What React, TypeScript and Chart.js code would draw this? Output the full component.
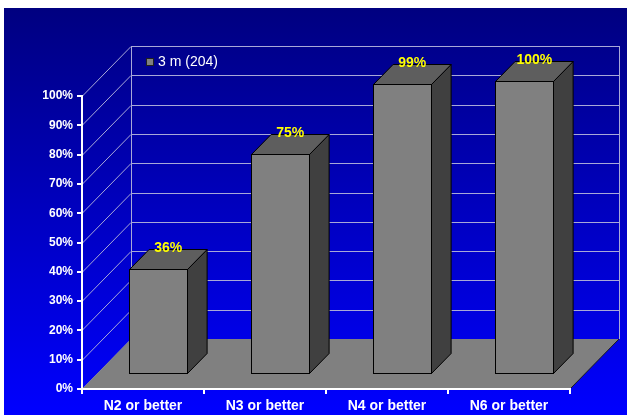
import React, { useEffect, useRef } from 'react';
import { Chart, registerables } from 'chart.js';

Chart.register(...registerables);

// ---- data ----
const CATEGORIES = ['N2 or better', 'N3 or better', 'N4 or better', 'N6 or better'];
const SERIES_LABEL = '3 m (204)';
const VALUES = [36, 75, 99, 100];
const Y_MIN = 0;
const Y_MAX = 100;
const Y_STEP = 10;

// ---- style ----
const FONT = '"Liberation Sans", Arial, Helvetica, sans-serif';
const DX = 49; // 3D depth offset (x)
const DY = -50; // 3D depth offset (y)
const GRID = '#a8a8d8';
const FRONT = '#808080';
const TOP = '#5e5e5e';
const SIDE = '#404040';
const FLOOR = '#808080';

const threeD = {
  id: 'threeD',
  beforeDraw(chart: any) {
    const { ctx, width, height, chartArea: a, scales } = chart;
    const y = scales.y;
    ctx.save();
    const g = ctx.createLinearGradient(0, 0, 0, height);
    g.addColorStop(0, '#000080');
    g.addColorStop(1, '#0000ff');
    ctx.fillStyle = g;
    ctx.fillRect(0, 0, width, height);

    // walls grid
    ctx.strokeStyle = GRID;
    ctx.lineWidth = 1;
    ctx.beginPath();
    y.ticks.forEach((t: any) => {
      const py = Math.round(y.getPixelForValue(t.value)) + 0.5;
      ctx.moveTo(a.left, py);
      ctx.lineTo(a.left + DX, py + DY);
      ctx.lineTo(a.right + DX, py + DY);
    });
    const bx1 = Math.round(a.left + DX) + 0.5;
    const bx2 = Math.round(a.right + DX) + 0.5;
    ctx.moveTo(bx1, a.top + DY);
    ctx.lineTo(bx1, a.bottom + DY);
    ctx.moveTo(bx2, a.top + DY);
    ctx.lineTo(bx2, a.bottom + DY);
    ctx.stroke();

    // floor
    ctx.fillStyle = FLOOR;
    ctx.beginPath();
    ctx.moveTo(a.left, a.bottom);
    ctx.lineTo(a.right, a.bottom);
    ctx.lineTo(a.right + DX, a.bottom + DY);
    ctx.lineTo(a.left + DX, a.bottom + DY);
    ctx.closePath();
    ctx.fill();
    ctx.strokeStyle = '#1a1a1a';
    ctx.beginPath();
    ctx.moveTo(a.right, a.bottom);
    ctx.lineTo(a.right + DX, a.bottom + DY);
    ctx.stroke();

    // legend
    const lx = Math.round(a.left + DX + 15);
    const ly = Math.round(a.top + DY + 12);
    ctx.fillStyle = FRONT;
    ctx.fillRect(lx, ly, 8, 8);
    ctx.strokeStyle = '#202020';
    ctx.strokeRect(lx + 0.5, ly + 0.5, 7, 7);
    ctx.fillStyle = '#ffffff';
    ctx.font = `14px ${FONT}`;
    ctx.textAlign = 'left';
    ctx.textBaseline = 'middle';
    ctx.fillText(chart.data.datasets[0].label, lx + 12, ly + 4);
    ctx.restore();
  },
  beforeDatasetDraw() {
    return false;
  },
  afterDatasetsDraw(chart: any) {
    const { ctx } = chart;
    const meta = chart.getDatasetMeta(0);
    const data = chart.data.datasets[0].data;
    const fx = DX * 0.3;
    const fy = DY * 0.3;
    const bdx = DX * 0.4;
    const bdy = DY * 0.4;
    ctx.save();
    ctx.lineWidth = 1;
    ctx.strokeStyle = '#000000';
    ctx.lineJoin = 'miter';
    meta.data.forEach((bar: any, i: number) => {
      const w = bar.width;
      const x0 = Math.round(bar.x - w / 2 + fx) + 0.5;
      const x1 = Math.round(bar.x + w / 2 + fx) + 0.5;
      const yt = Math.round(bar.y + fy) + 0.5;
      const yb = Math.round(bar.base + fy) + 0.5;
      // side
      ctx.fillStyle = SIDE;
      ctx.beginPath();
      ctx.moveTo(x1, yt);
      ctx.lineTo(x1 + bdx, yt + bdy);
      ctx.lineTo(x1 + bdx, yb + bdy);
      ctx.lineTo(x1, yb);
      ctx.closePath();
      ctx.fill();
      ctx.stroke();
      // top
      ctx.fillStyle = TOP;
      ctx.beginPath();
      ctx.moveTo(x0, yt);
      ctx.lineTo(x0 + bdx, yt + bdy);
      ctx.lineTo(x1 + bdx, yt + bdy);
      ctx.lineTo(x1, yt);
      ctx.closePath();
      ctx.fill();
      ctx.stroke();
      // front
      ctx.fillStyle = FRONT;
      ctx.fillRect(x0, yt, x1 - x0, yb - yt);
      ctx.strokeRect(x0, yt, x1 - x0, yb - yt);
      // label
      ctx.fillStyle = '#ffff00';
      ctx.font = `bold 14px ${FONT}`;
      ctx.textAlign = 'center';
      ctx.textBaseline = 'middle';
      ctx.fillText(`${data[i]}%`, (x0 + x1) / 2 + bdx / 2, yt + bdy - 1);
    });
    ctx.restore();
  },
};

export default function App() {
  const ref = useRef<HTMLCanvasElement>(null);
  useEffect(() => {
    if (!ref.current) return;
    const axisGrid = {
      offset: true,
      drawOnChartArea: false,
      drawTicks: true,
      tickLength: 5,
      color: '#ffffff',
      lineWidth: 2,
    };
    const chart = new Chart(ref.current, {
      type: 'bar',
      data: {
        labels: CATEGORIES,
        datasets: [
          {
            label: SERIES_LABEL,
            data: VALUES,
            backgroundColor: FRONT,
            categoryPercentage: 1,
            barPercentage: 0.475,
          },
        ],
      },
      options: {
        responsive: false,
        animation: false,
        events: [],
        layout: { padding: { left: 0, top: 88, right: 57, bottom: 0 } },
        plugins: { legend: { display: false }, tooltip: { enabled: false } },
        scales: {
          x: {
            offset: true,
            grid: axisGrid,
            border: { display: true, color: '#ffffff', width: 2 },
            ticks: {
              color: '#ffffff',
              font: { family: FONT, size: 14, weight: 'bold' },
              padding: 4,
              maxRotation: 0,
              autoSkip: false,
            },
            afterFit: (s: any) => {
              s.height = 26;
            },
          },
          y: {
            min: Y_MIN,
            max: Y_MAX,
            grid: { ...axisGrid, offset: false },
            border: { display: true, color: '#ffffff', width: 2 },
            ticks: {
              stepSize: Y_STEP,
              color: '#ffffff',
              font: { family: FONT, size: 12, weight: 'bold' },
              padding: 4,
              callback: (v: any) => `${v}%`,
            },
            afterFit: (s: any) => {
              s.width = 78;
            },
          },
        },
      } as any,
      plugins: [threeD],
    });
    return () => chart.destroy();
  }, []);
  return (
    <div style={{ position: 'fixed', left: 0, top: 0, width: 627, height: 417, background: '#ffffff' }}>
      <canvas
        ref={ref}
        width={623}
        height={407}
        style={{ position: 'absolute', left: 4, top: 8, width: 623, height: 407, display: 'block' }}
      />
    </div>
  );
}
